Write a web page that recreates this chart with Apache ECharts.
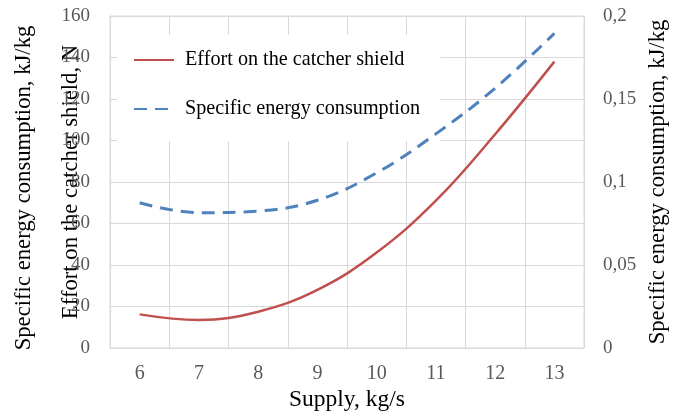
<!DOCTYPE html>
<html><head><meta charset="utf-8">
<script src="https://cdn.jsdelivr.net/npm/echarts@6/dist/echarts.min.js"></script>
<style>html,body{margin:0;padding:0;background:#fff}#c{width:678px;height:412px}</style>
</head><body><div id="c"></div>
<script>
const categories = ['6','7','8','9','10','11','12','13'];
const effort = [16.2, 13.5, 17.5, 28, 46, 71, 103, 138];
const energy = [0.0875, 0.0815, 0.0825, 0.089, 0.1055, 0.129, 0.1565, 0.1895];
const leftTicks = {min: 0, max: 160, interval: 20};
const rightTicks = {min: 0, max: 0.2, interval: 0.05};
const F = 'Liberation Serif, Times New Roman, serif';
const chart = echarts.init(document.getElementById('c'));
chart.setOption({
  animation: false,
  grid: {left: 110, right: 94, top: 16, bottom: 64, show: true, borderColor: '#d9d9d9', borderWidth: 1,
    outerBoundsMode: 'none', containLabel: false},
  legend: {
    orient: 'vertical', left: 117, top: 35, backgroundColor: '#fff',
    padding: [15, 20, 22, 16], itemGap: 29, itemWidth: 40, itemHeight: 14,
    itemStyle: {opacity: 0},
    textStyle: {fontFamily: F, fontSize: 20.2, color: '#000', padding: [0, 0, 0, 6]},
    data: ['Effort on the catcher shield', 'Specific energy consumption']
  },
  xAxis: {
    type: 'category', data: categories, boundaryGap: true,
    name: 'Supply, kg/s', nameLocation: 'middle', nameGap: 40, nameMoveOverlap: false,
    nameTextStyle: {fontFamily: F, fontSize: 23.5, color: '#000'},
    axisLine: {show: false}, axisTick: {show: false},
    axisLabel: {fontFamily: F, fontSize: 20, color: '#595959', margin: 16},
    splitLine: {show: true, lineStyle: {color: '#d9d9d9'}}
  },
  yAxis: [{
    type: 'value', min: leftTicks.min, max: leftTicks.max, interval: leftTicks.interval,
    name: 'Effort on the catcher shield, N', nameLocation: 'middle', nameGap: 27, nameMoveOverlap: false,
    nameTextStyle: {fontFamily: F, fontSize: 22.7, color: '#000'},
    axisLine: {show: false}, axisTick: {show: false},
    axisLabel: {fontFamily: F, fontSize: 19, color: '#595959', margin: 20},
    splitLine: {lineStyle: {color: '#d9d9d9'}}
  }, {
    type: 'value', min: rightTicks.min, max: rightTicks.max, interval: rightTicks.interval,
    position: 'right',
    name: 'Specific energy consumption, kJ/kg', nameLocation: 'middle', nameGap: 63, nameMoveOverlap: false,
    nameTextStyle: {fontFamily: F, fontSize: 22.7, color: '#000'},
    axisLine: {show: false}, axisTick: {show: false},
    axisLabel: {fontFamily: F, fontSize: 19, color: '#595959', margin: 19,
      formatter: v => String(+v.toFixed(2)).replace('.', ',')},
    splitLine: {show: false}
  }],
  graphic: [{
    type: 'text', x: 24, y: 188, rotation: Math.PI / 2,
    style: {text: 'Specific energy consumption, kJ/kg', font: '22.7px ' + F, fill: '#000',
      align: 'center', verticalAlign: 'middle'}
  }],
  series: [{
    name: 'Effort on the catcher shield', type: 'line', yAxisIndex: 0, data: effort,
    smooth: 0.4, symbol: 'none', z: 5,
    lineStyle: {color: '#C0504D', width: 2.5}, itemStyle: {color: '#C0504D'}
  }, {
    name: 'Specific energy consumption', type: 'line', yAxisIndex: 1, data: energy,
    smooth: 0.4, symbol: 'none', z: 5,
    lineStyle: {color: '#4F81BD', width: 3, type: [13, 8]}, itemStyle: {color: '#4F81BD'}
  }]
});
</script></body></html>
